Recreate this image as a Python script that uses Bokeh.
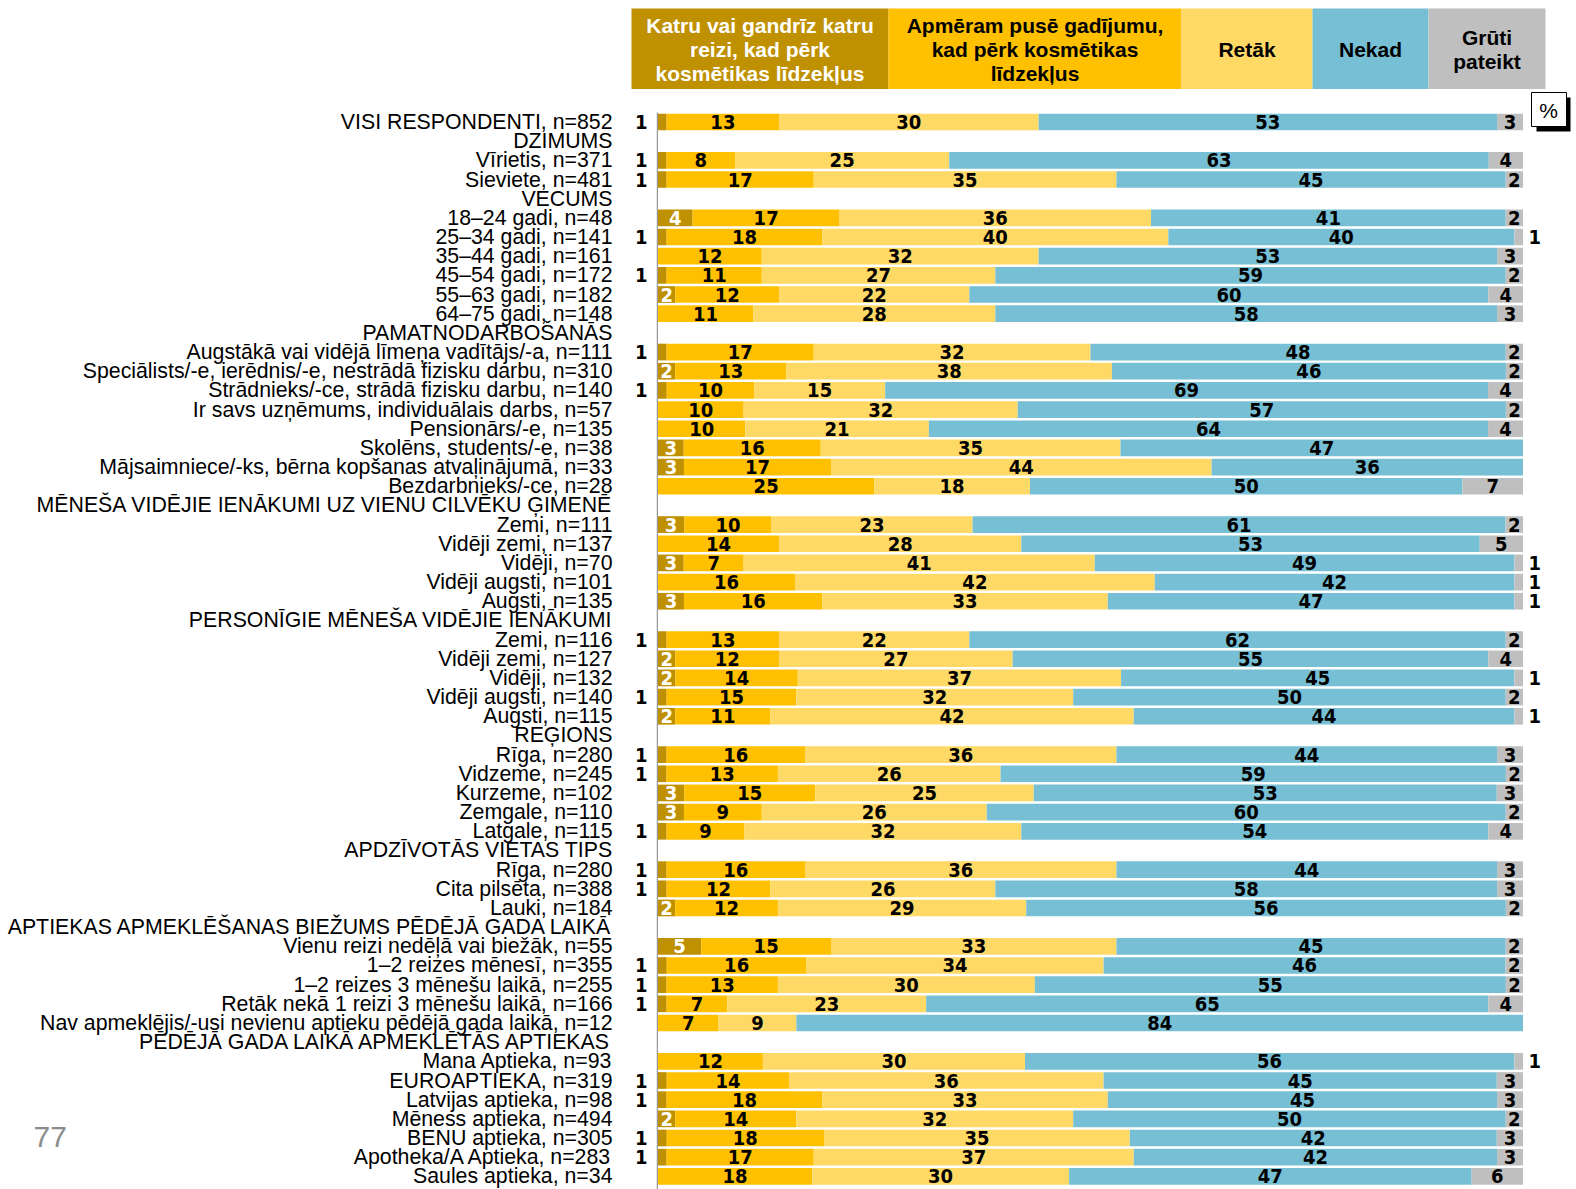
from bokeh.plotting import figure
from bokeh.models import Range1d, ColumnDataSource
from bokeh.core.properties import value
from bokeh.embed import file_html
from bokeh.resources import INLINE

# ---------------- data ----------------
row_labels = [
    "VISI RESPONDENTI, n=852",
    "DZIMUMS",
    "Vīrietis, n=371",
    "Sieviete, n=481",
    "VECUMS",
    "18–24 gadi, n=48",
    "25–34 gadi, n=141",
    "35–44 gadi, n=161",
    "45–54 gadi, n=172",
    "55–63 gadi, n=182",
    "64–75 gadi, n=148",
    "PAMATNODARBOŠANĀS",
    "Augstākā vai vidējā līmeņa vadītājs/-a, n=111",
    "Speciālists/-e, ierēdnis/-e, nestrādā fizisku darbu, n=310",
    "Strādnieks/-ce, strādā fizisku darbu, n=140",
    "Ir savs uzņēmums, individuālais darbs, n=57",
    "Pensionārs/-e, n=135",
    "Skolēns, students/-e, n=38",
    "Mājsaimniece/-ks, bērna kopšanas atvaļinājumā, n=33",
    "Bezdarbnieks/-ce, n=28",
    "MĒNEŠA VIDĒJIE IENĀKUMI UZ VIENU CILVĒKU ĢIMENĒ",
    "Zemi, n=111",
    "Vidēji zemi, n=137",
    "Vidēji, n=70",
    "Vidēji augsti, n=101",
    "Augsti, n=135",
    "PERSONĪGIE MĒNEŠA VIDĒJIE IENĀKUMI",
    "Zemi, n=116",
    "Vidēji zemi, n=127",
    "Vidēji, n=132",
    "Vidēji augsti, n=140",
    "Augsti, n=115",
    "REĢIONS",
    "Rīga, n=280",
    "Vidzeme, n=245",
    "Kurzeme, n=102",
    "Zemgale, n=110",
    "Latgale, n=115",
    "APDZĪVOTĀS VIETAS TIPS",
    "Rīga, n=280",
    "Cita pilsēta, n=388",
    "Lauki, n=184",
    "APTIEKAS APMEKLĒŠANAS BIEŽUMS PĒDĒJĀ GADA LAIKĀ",
    "Vienu reizi nedēļā vai biežāk, n=55",
    "1–2 reizes mēnesī, n=355",
    "1–2 reizes 3 mēnešu laikā, n=255",
    "Retāk nekā 1 reizi 3 mēnešu laikā, n=166",
    "Nav apmeklējis/-usi nevienu aptieku pēdējā gada laikā, n=12",
    "PĒDĒJĀ GADA LAIKĀ APMEKLĒTĀS APTIEKAS",
    "Mana Aptieka, n=93",
    "EUROAPTIEKA, n=319",
    "Latvijas aptieka, n=98",
    "Mēness aptieka, n=494",
    "BENU aptieka, n=305",
    "Apotheka/A Aptieka, n=283",
    "Saules aptieka, n=34",
]

N = None
katru = [1, N, 1, 1, N, 4, 1, 0, 1, 2, 0, N, 1, 2, 1, 0, 0, 3, 3, 0, N, 3, 0, 3, 0, 3, N,
         1, 2, 2, 1, 2, N, 1, 1, 3, 3, 1, N, 1, 1, 2, N, 5, 1, 1, 1, 0, N, 0, 1, 1, 2, 1, 1, 0]
puse = [13, N, 8, 17, N, 17, 18, 12, 11, 12, 11, N, 17, 13, 10, 10, 10, 16, 17, 25, N, 10, 14, 7, 16, 16, N,
        13, 12, 14, 15, 11, N, 16, 13, 15, 9, 9, N, 16, 12, 12, N, 15, 16, 13, 7, 7, N, 12, 14, 18, 14, 18, 17, 18]
retak = [30, N, 25, 35, N, 36, 40, 32, 27, 22, 28, N, 32, 38, 15, 32, 21, 35, 44, 18, N, 23, 28, 41, 42, 33, N,
         22, 27, 37, 32, 42, N, 36, 26, 25, 26, 32, N, 36, 26, 29, N, 33, 34, 30, 23, 9, N, 30, 36, 33, 32, 35, 37, 30]
nekad = [53, N, 63, 45, N, 41, 40, 53, 59, 60, 58, N, 48, 46, 69, 57, 64, 47, 36, 50, N, 61, 53, 49, 42, 47, N,
         62, 55, 45, 50, 44, N, 44, 59, 53, 60, 54, N, 44, 58, 56, N, 45, 46, 55, 65, 84, N, 56, 45, 45, 50, 42, 42, 47]
gruti = [3, N, 4, 2, N, 2, 1, 3, 2, 4, 3, N, 2, 2, 4, 2, 4, 0, 0, 7, N, 2, 5, 1, 1, 1, N,
         2, 4, 1, 2, 1, N, 3, 2, 3, 2, 4, N, 3, 3, 2, N, 2, 2, 2, 4, 0, N, 1, 3, 3, 2, 3, 3, 6]

legend_names = [
    "Katru vai gandrīz katru\nreizi, kad pērk\nkosmētikas līdzekļus",
    "Apmēram pusē gadījumu,\nkad pērk kosmētikas\nlīdzekļus",
    "Retāk",
    "Nekad",
    "Grūti\npateikt",
]
page_number = "77"
unit_sign = "%"

# ---------------- style / layout ----------------
colors = ["#BF9000", "#FFC000", "#FFD966", "#76BFD4", "#BFBFBF"]
W, H = 1576, 1189
X0, PX = 657.5, 8.65     # page pixel of 0 %, pixels per percent
Y0, PY = 121.5, 19.17    # page pixel of first row centre, pixels per row
BAR_H = 0.87

def dx(px):  # page pixel -> data x
    return (px - X0) / PX

def dy(py):  # page pixel -> data y
    return (py - Y0) / PY

p = figure(width=W, height=H,
           x_range=Range1d(dx(0), dx(W)),
           y_range=Range1d(dy(H), dy(0)),
           output_backend="svg", toolbar_location=None, min_border=0,
           x_axis_location=None, y_axis_location=None,
           outline_line_color=None)
p.grid.visible = False

LABEL_FONT = value("'DejaVu Sans Condensed', 'Liberation Sans'")
TEXT_FONT = value("Liberation Sans")

series = [katru, puse, retak, nekad, gruti]
rows = list(range(len(row_labels)))
bar_rows = [i for i in rows if katru[i] is not None]

# stacked segments (normalised so every bar spans 0..100)
lefts = [[] for _ in series]
rights = [[] for _ in series]
for i in bar_rows:
    vals = [s[i] for s in series]
    tot = float(sum(vals))
    cum = 0.0
    for k, v in enumerate(vals):
        lefts[k].append(cum / tot * 100)
        cum += v
        rights[k].append(cum / tot * 100)

for k in range(len(series)):
    src = ColumnDataSource(dict(y=bar_rows, left=lefts[k], right=rights[k],
                                v=[series[k][i] for i in bar_rows]))
    p.hbar(y="y", left="left", right="right", height=BAR_H, source=src,
           fill_color=colors[k], line_color=None)

# axis line
p.segment(x0=[dx(656.8)], y0=[dy(112)], x1=[dx(656.8)], y1=[dy(1189)],
          line_color="#7F7F7F", line_width=1)

# value labels
for k in range(len(series)):
    xs, ys, ts = [], [], []
    out_x, out_y, out_t = [], [], []
    for j, i in enumerate(bar_rows):
        v = series[k][i]
        if v == 0:
            continue
        c = (lefts[k][j] + rights[k][j]) / 2
        if k == 0 and v == 1:
            out_x.append(dx(647)); out_y.append(i); out_t.append(str(v))
        elif k == 4 and v == 1:
            out_x.append(dx(1528)); out_y.append(i); out_t.append(str(v))
        else:
            xs.append(c); ys.append(i); ts.append(str(v))
    p.text(x=xs, y=ys, text=ts, text_align="center", text_baseline="middle",
           text_font=LABEL_FONT, text_font_size="20px", text_font_style="bold",
           text_color="white" if k == 0 else "black")
    if out_t:
        p.text(x=out_x, y=out_y, text=out_t,
               text_align="right" if k == 0 else "left", text_baseline="middle",
               text_font=LABEL_FONT, text_font_size="20px", text_font_style="bold",
               text_color="black")

# row labels
p.text(x=[dx(612)] * len(rows), y=rows, text=row_labels, text_align="right",
       text_baseline="middle", text_font=TEXT_FONT, text_font_size="21.3px",
       text_color="black")

# header legend boxes
box_edges = [631, 888, 1181, 1312, 1428, 1545]
p.quad(left=[dx(b) for b in box_edges[:-1]], right=[dx(b) for b in box_edges[1:]],
       top=[dy(8)] * 5, bottom=[dy(88.5)] * 5, fill_color=colors, line_color=None)
p.text(x=[dx((box_edges[k] + box_edges[k + 1]) / 2) for k in range(5)], y=[dy(49)] * 5,
       text=legend_names, text_align="center", text_baseline="middle",
       text_font=TEXT_FONT, text_font_size="21px", text_font_style="bold",
       text_line_height=1.04,
       text_color=["white", "black", "black", "black", "black"])

# % box with shadow
p.quad(left=[dx(1536)], right=[dx(1570)], top=[dy(97)], bottom=[dy(131)],
       fill_color="black", line_color=None)
p.quad(left=[dx(1531)], right=[dx(1566)], top=[dy(92)], bottom=[dy(126)],
       fill_color="white", line_color="black", line_width=1)
p.text(x=[dx(1548)], y=[dy(109.5)], text=[unit_sign], text_align="center",
       text_baseline="middle", text_font=TEXT_FONT, text_font_size="21px",
       text_color="black")

# page number
p.text(x=[dx(33)], y=[dy(1136)], text=[page_number], text_align="left",
       text_baseline="middle", text_font=TEXT_FONT, text_font_size="30px",
       text_color="#8C8C8C")

open("out.html", "w").write(file_html(p, INLINE))
